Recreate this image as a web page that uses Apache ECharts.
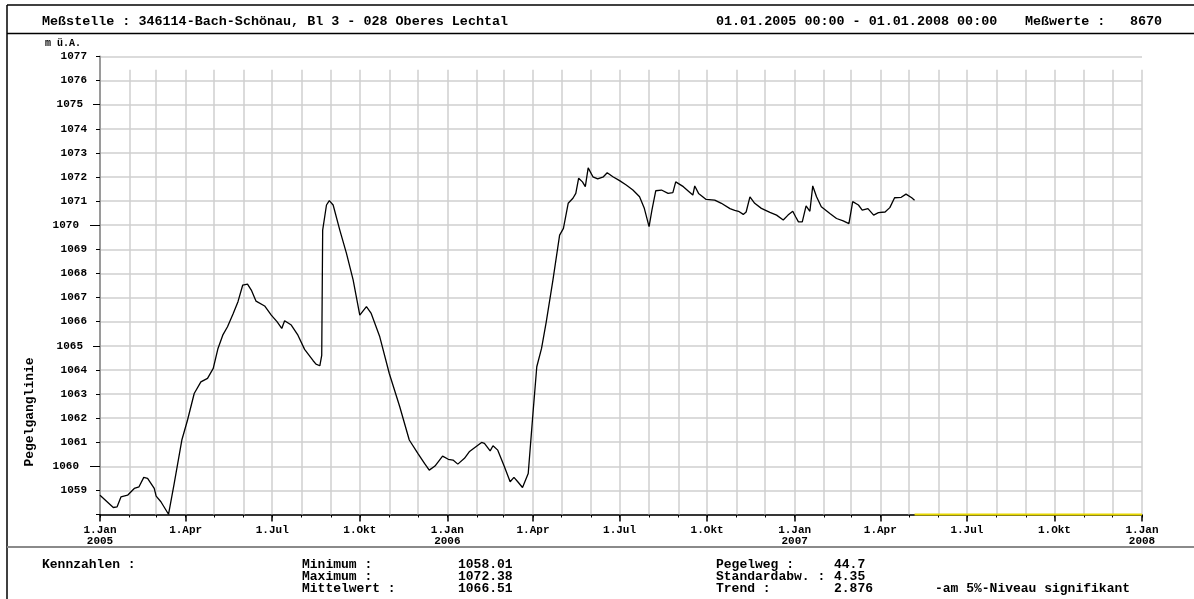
<!DOCTYPE html>
<html>
<head>
<meta charset="utf-8">
<title>Pegelganglinie 346114-Bach-Schönau</title>
<script src="https://cdn.jsdelivr.net/npm/echarts@6/dist/echarts.min.js"></script>
<style>
  html, body { margin: 0; padding: 0; background: #ffffff; }
  #chart { width: 1194px; height: 599px; }
</style>
</head>
<body>
<div id="chart"></div>
<script>
// Groundwater level readings (m ü.A.)
const dates = [
  '2005-01-01','2005-01-15','2005-01-19','2005-01-23','2005-01-30','2005-02-06','2005-02-11','2005-02-16',
  '2005-02-20','2005-02-27','2005-03-01','2005-03-06','2005-03-14','2005-03-20','2005-03-28','2005-04-03',
  '2005-04-10','2005-04-17','2005-04-24','2005-04-30','2005-05-05','2005-05-10','2005-05-15','2005-05-21',
  '2005-05-26','2005-05-31','2005-06-05','2005-06-09','2005-06-14','2005-06-23','2005-06-30','2005-07-06',
  '2005-07-11','2005-07-14','2005-07-21','2005-07-28','2005-08-04','2005-08-13','2005-08-16','2005-08-20',
  '2005-08-22','2005-08-23','2005-08-27','2005-08-30','2005-09-03','2005-09-10','2005-09-17','2005-09-24',
  '2005-10-01','2005-10-08','2005-10-13','2005-10-22','2005-11-01','2005-11-12','2005-11-22','2005-12-01',
  '2005-12-08','2005-12-13','2005-12-19','2005-12-27','2006-01-02','2006-01-07','2006-01-12','2006-01-19',
  '2006-01-24','2006-01-31','2006-02-06','2006-02-09','2006-02-15','2006-02-18','2006-02-23','2006-03-02',
  '2006-03-08','2006-03-12','2006-03-16','2006-03-21','2006-03-27','2006-04-01','2006-04-05','2006-04-10',
  '2006-04-15','2006-04-22','2006-04-29','2006-05-03','2006-05-08','2006-05-13','2006-05-16','2006-05-19',
  '2006-05-23','2006-05-26','2006-05-29','2006-06-03','2006-06-08','2006-06-14','2006-06-18','2006-06-24',
  '2006-07-01','2006-07-08','2006-07-15','2006-07-22','2006-07-27','2006-08-01','2006-08-04','2006-08-08',
  '2006-08-14','2006-08-21','2006-08-26','2006-08-29','2006-08-31','2006-09-06','2006-09-12','2006-09-16',
  '2006-09-18','2006-09-22','2006-09-30','2006-10-09','2006-10-16','2006-10-25','2006-10-30','2006-11-03',
  '2006-11-08','2006-11-11','2006-11-15','2006-11-20','2006-11-27','2006-12-06','2006-12-13','2006-12-20',
  '2006-12-25','2006-12-30','2007-01-02','2007-01-05','2007-01-09','2007-01-13','2007-01-17','2007-01-20',
  '2007-01-24','2007-01-29','2007-02-07','2007-02-14','2007-02-21','2007-02-27','2007-03-03','2007-03-09',
  '2007-03-13','2007-03-19','2007-03-25','2007-03-30','2007-04-06','2007-04-11','2007-04-16','2007-04-23',
  '2007-04-28','2007-05-04','2007-05-07'
];
const levels = [
  1058.80,1058.29,1058.32,1058.73,1058.80,1059.08,1059.15,1059.54,
  1059.50,1059.08,1058.76,1058.53,1058.01,1059.29,1061.09,1061.92,
  1063.02,1063.50,1063.65,1064.06,1064.89,1065.44,1065.79,1066.34,
  1066.83,1067.52,1067.56,1067.31,1066.85,1066.65,1066.27,1066.00,
  1065.72,1066.04,1065.86,1065.44,1064.85,1064.38,1064.24,1064.17,
  1064.60,1069.80,1070.84,1071.02,1070.84,1069.80,1068.83,1067.73,
  1066.27,1066.62,1066.34,1065.37,1063.85,1062.47,1061.09,1060.54,
  1060.12,1059.84,1060.01,1060.42,1060.29,1060.26,1060.09,1060.33,
  1060.60,1060.81,1060.99,1060.95,1060.64,1060.85,1060.67,1059.98,
  1059.36,1059.54,1059.36,1059.12,1059.70,1062.20,1064.13,1064.89,
  1066.00,1067.73,1069.59,1069.87,1070.91,1071.12,1071.32,1071.95,
  1071.80,1071.60,1072.38,1072.01,1071.92,1072.01,1072.18,1072.01,
  1071.85,1071.67,1071.46,1071.18,1070.70,1069.94,1070.63,1071.43,
  1071.46,1071.32,1071.35,1071.80,1071.83,1071.60,1071.39,1071.25,
  1071.63,1071.32,1071.07,1071.04,1070.91,1070.69,1070.62,1070.58,
  1070.45,1070.55,1071.18,1070.91,1070.70,1070.53,1070.42,1070.22,
  1070.42,1070.58,1070.35,1070.14,1070.14,1070.80,1070.58,1071.63,
  1071.18,1070.77,1070.49,1070.28,1070.18,1070.07,1070.98,1070.84,
  1070.63,1070.69,1070.42,1070.52,1070.55,1070.73,1071.14,1071.16,
  1071.29,1071.14,1071.04
];

// Period without readings, marked along the bottom of the plot
const gapDates = ['2007-05-07', '2008-01-01'];
const gapLevels = [1058, 1058];

// Quarter ticks and their labels
const quarterDates = [
  '2005-01-01','2005-04-01','2005-07-01','2005-10-01',
  '2006-01-01','2006-04-01','2006-07-01','2006-10-01',
  '2007-01-01','2007-04-01','2007-07-01','2007-10-01','2008-01-01'
];
const quarterLabels = [
  '1.Jan\n2005','1.Apr','1.Jul','1.Okt',
  '1.Jan\n2006','1.Apr','1.Jul','1.Okt',
  '1.Jan\n2007','1.Apr','1.Jul','1.Okt','1.Jan\n2008'
];

const yMin = 1058, yMax = 1077;

function toTime(s) {
  const p = s.split('-').map(Number);
  return Date.UTC(p[0], p[1] - 1, p[2]);
}

const xStart = toTime('2005-01-01');
const xEnd = toTime('2008-01-01');
const quarterTimes = quarterDates.map(toTime);

// month starts for the minor ticks and vertical grid
const monthTimes = [];
for (let y = 2005; y <= 2007; y++) {
  for (let m = 0; m < 12; m++) monthTimes.push(Date.UTC(y, m, 1));
}
monthTimes.push(xEnd);

const mono = '"Liberation Mono", "DejaVu Sans Mono", monospace';
const lineData = dates.map((d, i) => [toTime(d), levels[i]]);
const gapData = gapDates.map((d, i) => [toTime(d), gapLevels[i]]);

function txt(text, x, y, extra, props) {
  return Object.assign({
    type: 'text', x: x, y: y, silent: true,
    style: Object.assign({
      text: text, fill: '#000', fontFamily: mono, fontWeight: 'bold',
      fontSize: 13, verticalAlign: 'middle', align: 'left'
    }, extra || {})
  }, props || {});
}
function seg(x1, y1, x2, y2, color, w) {
  return { type: 'line', silent: true, shape: { x1: x1, y1: y1, x2: x2, y2: y2 },
           style: { stroke: color, lineWidth: w } };
}

function quarterLabel(v) {
  let best = 0;
  for (let i = 1; i < quarterTimes.length; i++) {
    if (Math.abs(quarterTimes[i] - v) < Math.abs(quarterTimes[best] - v)) best = i;
  }
  return quarterLabels[best];
}

const head = { fontSize: 13.4 };

const chart = echarts.init(document.getElementById('chart'), null, { renderer: 'canvas' });

chart.setOption({
  animation: false,
  backgroundColor: '#ffffff',
  grid: { left: 100, right: 52, top: 56.5, bottom: 84.5, containLabel: false },
  xAxis: [
    {
      type: 'value', min: xStart, max: xEnd, position: 'bottom',
      axisLine: { show: true, lineStyle: { color: '#000', width: 1.5 } },
      axisTick: { show: true, customValues: quarterTimes, length: 7, lineStyle: { color: '#000', width: 1.5 } },
      axisLabel: {
        show: true, customValues: quarterTimes, margin: 10,
        color: '#000', fontFamily: mono, fontWeight: 'bold', fontSize: 11, lineHeight: 11,
        formatter: quarterLabel
      },
      splitLine: { show: false }
    },
    {
      type: 'value', min: xStart, max: xEnd, position: 'bottom',
      axisLine: { show: false },
      axisTick: { show: true, customValues: monthTimes, length: 3, lineStyle: { color: '#000', width: 1 } },
      axisLabel: { show: false },
      splitLine: { show: false }
    }
  ],
  yAxis: [
    {
      type: 'value', min: yMin, max: yMax, interval: 1, position: 'left',
      axisLine: { show: true, lineStyle: { color: '#9a9a9a', width: 2 } },
      axisTick: { show: true, length: 4, lineStyle: { color: '#000', width: 1 } },
      axisLabel: {
        color: '#000', fontFamily: mono, fontWeight: 'bold', fontSize: 11, margin: 13,
        formatter: function (v) {
          if (v === yMin) return '';
          if (v % 10 === 0) return '{far|' + v + '}';
          if (v % 5 === 0) return '{mid|' + v + '}';
          return String(v);
        },
        rich: {
          far: { padding: [0, 8, 0, 0], fontFamily: mono, fontWeight: 'bold', fontSize: 11, color: '#000' },
          mid: { padding: [0, 4, 0, 0], fontFamily: mono, fontWeight: 'bold', fontSize: 11, color: '#000' }
        }
      },
      splitLine: { show: true, lineStyle: { color: '#cfcfcf', width: 1.5 } }
    },
    {
      type: 'value', min: yMin, max: yMax, position: 'left',
      axisLine: { show: false }, axisLabel: { show: false }, splitLine: { show: false },
      axisTick: { show: true, customValues: [1065, 1075], length: 7, lineStyle: { color: '#000', width: 1 } }
    },
    {
      type: 'value', min: yMin, max: yMax, position: 'left',
      axisLine: { show: false }, axisLabel: { show: false }, splitLine: { show: false },
      axisTick: { show: true, customValues: [1060, 1070], length: 10, lineStyle: { color: '#000', width: 1 } }
    }
  ],
  series: [
    {
      name: 'Pegelganglinie', type: 'line', data: lineData,
      xAxisIndex: 0, yAxisIndex: 0, showSymbol: false, symbol: 'none',
      lineStyle: { color: '#000', width: 1.3 }, z: 5,
      markLine: {
        silent: true, symbol: ['none', 'none'], animation: false,
        label: { show: false },
        lineStyle: { color: '#cfcfcf', width: 1.5, type: 'solid' },
        data: monthTimes.slice(1).map(t => [{ coord: [t, 1076.45] }, { coord: [t, yMin] }])
      }
    },
    {
      name: 'Lücke', type: 'line', data: gapData,
      xAxisIndex: 0, yAxisIndex: 0, showSymbol: false, symbol: 'none', clip: false,
      lineStyle: { color: '#e8d800', width: 2 }, z: 6
    }
  ],
  graphic: [
    seg(7, 5, 1194, 5, '#000', 1.5),
    seg(7, 5, 7, 599, '#000', 1.5),
    seg(7, 33.5, 1194, 33.5, '#000', 1.5),
    seg(7, 547, 1194, 547, '#8a8a8a', 2),
    txt('Meßstelle : 346114-Bach-Schönau, Bl 3 - 028 Oberes Lechtal', 42, 22, head),
    txt('01.01.2005 00:00 - 01.01.2008 00:00', 716, 22, head),
    txt('Meßwerte :', 1025, 22, head),
    txt('8670', 1130, 22, head),
    txt('m ü.A.', 45, 43, { fontSize: 10 }),
    txt('Pegelganglinie', 30, 412, { align: 'center' }, { rotation: Math.PI / 2 }),
    txt('Kennzahlen :', 42, 565),
    txt('Minimum :', 302, 565),
    txt('Maximum :', 302, 577),
    txt('Mittelwert :', 302, 589),
    txt('1058.01', 458, 565),
    txt('1072.38', 458, 577),
    txt('1066.51', 458, 589),
    txt('Pegelweg :', 716, 565),
    txt('Standardabw. :', 716, 577),
    txt('Trend :', 716, 589),
    txt('44.7', 834, 565),
    txt('4.35', 834, 577),
    txt('2.876', 834, 589),
    txt('-am 5%-Niveau signifikant', 935, 589)
  ]
});
</script>
</body>
</html>
